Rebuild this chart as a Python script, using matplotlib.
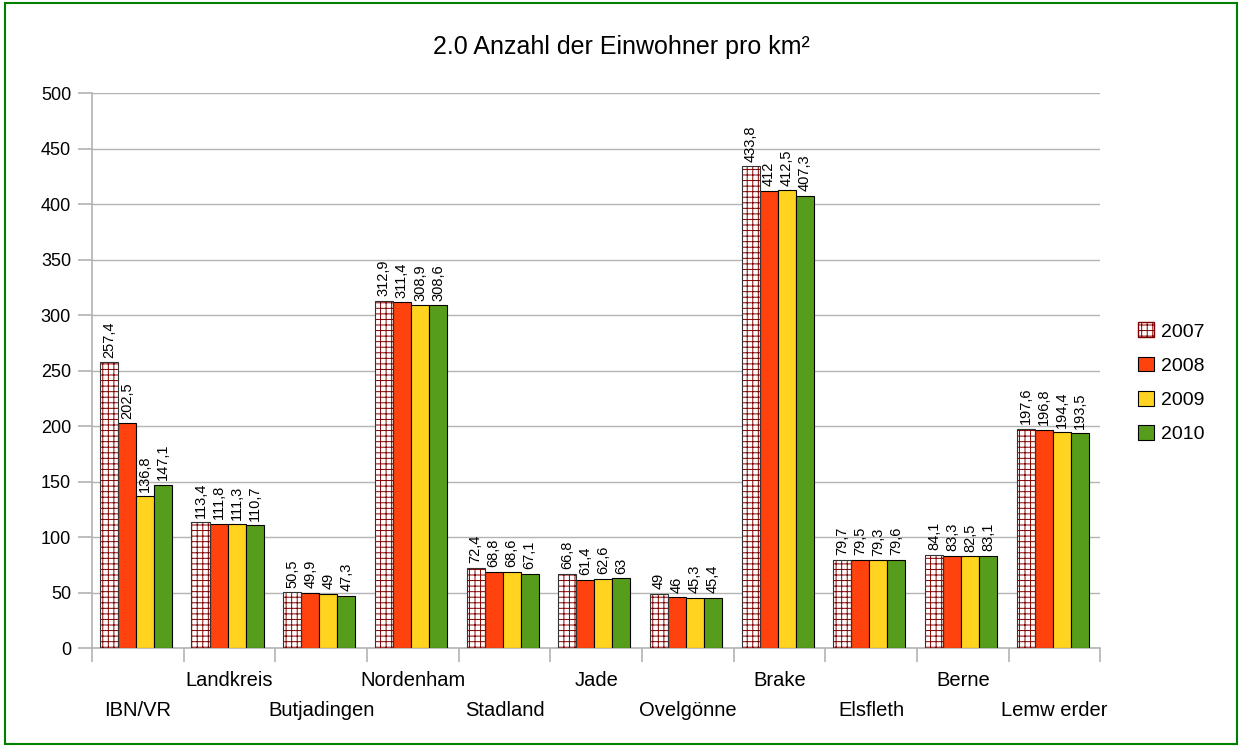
import numpy as np
import matplotlib
matplotlib.use("Agg")
import matplotlib.pyplot as plt
from matplotlib.patches import Rectangle

# Daten
orte = ["IBN/VR", "Landkreis", "Butjadingen", "Nordenham", "Stadland", "Jade",
        "Ovelgönne", "Brake", "Elsfleth", "Berne", "Lemw erder"]
jahre = ["2007", "2008", "2009", "2010"]
w2007 = [257.4, 113.4, 50.5, 312.9, 72.4, 66.8, 49, 433.8, 79.7, 84.1, 197.6]
w2008 = [202.5, 111.8, 49.9, 311.4, 68.8, 61.4, 46, 412, 79.5, 83.3, 196.8]
w2009 = [136.8, 111.3, 49, 308.9, 68.6, 62.6, 45.3, 412.5, 79.3, 82.5, 194.4]
w2010 = [147.1, 110.7, 47.3, 308.6, 67.1, 63, 45.4, 407.3, 79.6, 83.1, 193.5]
werte = [w2007, w2008, w2009, w2010]
farben = ["white", "#FF420E", "#FFD320", "#579D1C"]

plt.rcParams['font.family'] = ['Liberation Sans', 'DejaVu Sans']
plt.rcParams['hatch.linewidth'] = 0.7

fig = plt.figure(figsize=(12.42, 7.47), dpi=100)
fig.patches.append(Rectangle((0.004, 0.004), 0.992, 0.992, transform=fig.transFigure,
                             fill=False, edgecolor="#008000", linewidth=1.5))
ax = fig.add_axes([0.074, 0.1325, 0.812, 0.743])

x = np.arange(len(orte))
breite = 0.197
for i, (jahr, vals) in enumerate(zip(jahre, werte)):
    pos = x + (i - 1.5) * breite - 0.02
    if i == 0:
        ax.bar(pos, vals, breite, color="white", edgecolor="#800000", hatch="+++",
               linewidth=0, zorder=3)
        ax.bar(pos, vals, breite, fill=False, edgecolor="#333333", linewidth=0.8, zorder=4)
        # Legenden-Eintrag
        ax.bar([0], [0], 0, color="white", edgecolor="#800000", hatch="+++", label=jahr)
    else:
        ax.bar(pos, vals, breite, color=farben[i], edgecolor="black", linewidth=0.8,
               zorder=3, label=jahr)
    for p, v in zip(pos, vals):
        ax.text(p, v + 4, f"{v:g}".replace(".", ","), rotation=90, ha="center",
                va="bottom", fontsize=10.5, zorder=5)

ax.set_xlim(-0.5, len(orte) - 0.5)
ax.set_ylim(0, 500)
ax.set_yticks(np.arange(0, 501, 50))
ax.tick_params(axis="y", labelsize=13, color="#b3b3b3", length=10, width=1.2, pad=5)
ax.set_xticks(np.arange(-0.5, len(orte), 1.0))
ax.set_xticklabels([])
ax.tick_params(axis="x", color="#b3b3b3", length=10, width=1.2)
ax.yaxis.grid(True, color="#b3b3b3", linewidth=1, zorder=0)
ax.set_axisbelow(True)
for s in ["top", "right"]:
    ax.spines[s].set_visible(False)
for s in ["left", "bottom"]:
    ax.spines[s].set_color("#b3b3b3")
    ax.spines[s].set_linewidth(1.2)

for i, ort in enumerate(orte):
    yy = -0.112 if i % 2 == 0 else -0.0577
    ax.text(i, yy, ort, transform=ax.get_xaxis_transform(), ha="center", va="center",
            fontsize=14.5)

fig.text(0.5, 0.937, "2.0 Anzahl der Einwohner pro km²", ha="center", va="center",
         fontsize=18)

handles, labels = ax.get_legend_handles_labels()
order = [labels.index(j) for j in jahre]
ax.legend([handles[k] for k in order], jahre, loc="center left",
          bbox_to_anchor=(1.02, 0.478), frameon=False, fontsize=14,
          handlelength=0.8, handleheight=0.8, handletextpad=0.4, labelspacing=0.82)

fig.savefig("out.png", dpi=100)
